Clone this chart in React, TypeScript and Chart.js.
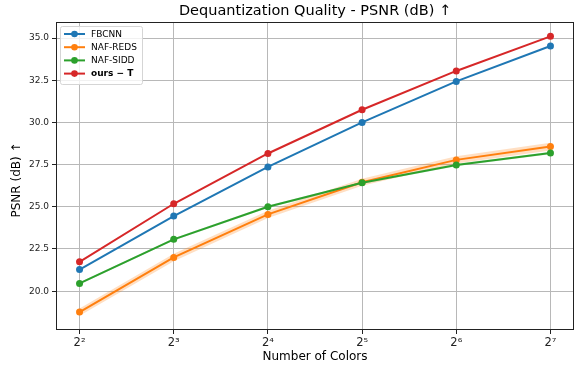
import React, { useEffect, useRef } from "react";
import { Chart, registerables } from "chart.js";

Chart.register(...registerables);

const COLORS_COUNT = [4, 8, 16, 32, 64, 128];
const X_TICK_LABELS = ["2²", "2³", "2⁴", "2⁵", "2⁶", "2⁷"];
const Y_TICKS = [20, 22.5, 25, 27.5, 30, 32.5, 35];

const FBCNN = [21.28, 24.45, 27.36, 30.0, 32.43, 34.53];
const NAF_REDS = [18.76, 22.0, 24.55, 26.45, 27.78, 28.57];
const NAF_SIDD = [20.46, 23.07, 25.0, 26.42, 27.48, 28.19];
const OURS_T = [21.74, 25.18, 28.16, 30.75, 33.05, 35.1];

const REDS_LO = [18.54, 21.78, 24.33, 26.24, 27.56, 28.34];
const REDS_HI = [18.98, 22.22, 24.77, 26.66, 28.0, 28.8];
const SIDD_LO = [20.39, 23.0, 24.93, 26.35, 27.41, 28.12];
const SIDD_HI = [20.53, 23.14, 25.07, 26.49, 27.55, 28.26];

const TITLE = "Dequantization Quality - PSNR (dB) ↑";
const X_TITLE = "Number of Colors";
const Y_TITLE = "PSNR (dB) ↑";

const C_BLUE = "#1f77b4";
const C_ORANGE = "#ff7f0e";
const C_GREEN = "#2ca02c";
const C_RED = "#d62728";

const LEGEND = [
  { label: "FBCNN", color: C_BLUE, bold: false },
  { label: "NAF-REDS", color: C_ORANGE, bold: false },
  { label: "NAF-SIDD", color: C_GREEN, bold: false },
  { label: "ours − T", color: C_RED, bold: true },
];

const FONT = "'DejaVu Sans', sans-serif";

function pts(vals: number[]) {
  return vals.map((v, i) => ({ x: Math.log2(COLORS_COUNT[i]), y: v }));
}

export default function App() {
  const ref = useRef<HTMLCanvasElement | null>(null);

  useEffect(() => {
    document.body.style.margin = "0";
    const canvas = ref.current;
    if (!canvas) return;

    const decor = {
      id: "decor",
      afterDraw(chart: any) {
        const ctx = chart.ctx;
        const a = chart.chartArea;
        ctx.save();
        ctx.strokeStyle = "#222";
        ctx.lineWidth = 1;
        ctx.strokeRect(a.left + 0.5, a.top + 0.5, a.right - a.left - 1, a.bottom - a.top - 1);
        ctx.fillStyle = "#000";
        ctx.font = `14.5px ${FONT}`;
        ctx.textAlign = "center";
        ctx.textBaseline = "middle";
        ctx.fillText(TITLE, (a.left + a.right) / 2, 11);
        ctx.font = `12px ${FONT}`;
        ctx.fillText(X_TITLE, (a.left + a.right) / 2, 357);
        ctx.save();
        ctx.translate(17, 180);
        ctx.rotate(-Math.PI / 2);
        ctx.fillText(Y_TITLE, 0, 0);
        ctx.restore();
        const bx = 60, by = 26, bw = 82, bh = 58;
        ctx.beginPath();
        if (ctx.roundRect) ctx.roundRect(bx + 0.5, by + 0.5, bw, bh, 2);
        else ctx.rect(bx + 0.5, by + 0.5, bw, bh);
        ctx.fillStyle = "rgba(255,255,255,0.8)";
        ctx.fill();
        ctx.strokeStyle = "#d5d5d5";
        ctx.lineWidth = 1;
        ctx.stroke();
        LEGEND.forEach((it, i) => {
          const y = 34 + i * 13.2;
          ctx.strokeStyle = it.color;
          ctx.lineWidth = 2;
          ctx.beginPath();
          ctx.moveTo(64, y);
          ctx.lineTo(85, y);
          ctx.stroke();
          ctx.fillStyle = it.color;
          ctx.beginPath();
          ctx.arc(74.5, y, 3.3, 0, Math.PI * 2);
          ctx.fill();
          ctx.fillStyle = "#000";
          ctx.font = `${it.bold ? "bold " : ""}9px ${FONT}`;
          ctx.textAlign = "left";
          ctx.textBaseline = "middle";
          ctx.fillText(it.label, 91, y + 0.5);
        });
        ctx.restore();
      },
    };

    const line = (label: string, data: number[], color: string, order: number) => ({
      label,
      data: pts(data),
      borderColor: color,
      backgroundColor: color,
      borderWidth: 2,
      pointRadius: 3.5,
      pointBorderWidth: 0,
      pointBackgroundColor: color,
      fill: false,
      order,
    });
    const band = (data: number[], fill: any, bg: string) => ({
      label: "",
      data: pts(data),
      borderWidth: 0,
      borderColor: "rgba(0,0,0,0)",
      pointRadius: 0,
      backgroundColor: bg,
      fill,
      order: 10,
    });

    const chart = new Chart(canvas, {
      type: "line",
      data: {
        datasets: [
          line("FBCNN", FBCNN, C_BLUE, 4),
          line("NAF-REDS", NAF_REDS, C_ORANGE, 3),
          line("NAF-SIDD", NAF_SIDD, C_GREEN, 2),
          line("ours − T", OURS_T, C_RED, 1),
          band(REDS_LO, "+1", "rgba(255,127,14,0.25)"),
          band(REDS_HI, false, "rgba(0,0,0,0)"),
          band(SIDD_LO, "+1", "rgba(44,160,44,0.18)"),
          band(SIDD_HI, false, "rgba(0,0,0,0)"),
        ] as any,
      },
      options: {
        responsive: false,
        animation: false,
        layout: { autoPadding: false, padding: { top: 22, right: 0, left: 0, bottom: 0 } },
        plugins: {
          legend: { display: false },
          title: { display: false },
          tooltip: { enabled: false },
        },
        scales: {
          x: {
            type: "linear",
            min: 1.75,
            max: 7.25,
            afterBuildTicks: (s: any) => {
              s.ticks = COLORS_COUNT.map((c) => ({ value: Math.log2(c) }));
            },
            afterFit: (s: any) => {
              s.height = 38;
              s.paddingLeft = 0;
              s.paddingRight = 0;
            },
            ticks: {
              callback: (v: any) => {
                const i = COLORS_COUNT.findIndex((c) => Math.log2(c) === v);
                return i >= 0 ? X_TICK_LABELS[i] : "";
              },
              font: { family: FONT, size: 11.5 },
              color: "#222",
              padding: 2,
              maxRotation: 0,
            },
            grid: { color: "#b8b8b8", lineWidth: 1, tickColor: "#222", tickLength: 4 },
            border: { display: false },
          },
          y: {
            type: "linear",
            min: 17.7,
            max: 35.95,
            afterBuildTicks: (s: any) => {
              s.ticks = Y_TICKS.map((v) => ({ value: v }));
            },
            afterFit: (s: any) => {
              s.width = 56;
              s.paddingTop = 0;
              s.paddingBottom = 0;
            },
            ticks: {
              callback: (v: any) => Number(v).toFixed(1),
              font: { family: FONT, size: 9 },
              color: "#222",
              padding: 3,
            },
            grid: { color: "#b8b8b8", lineWidth: 1, tickColor: "#222", tickLength: 4 },
            border: { display: false },
          },
        },
      },
      plugins: [decor],
    });
    return () => chart.destroy();
  }, []);

  return <canvas ref={ref} width={574} height={368} style={{ display: "block" }} />;
}
